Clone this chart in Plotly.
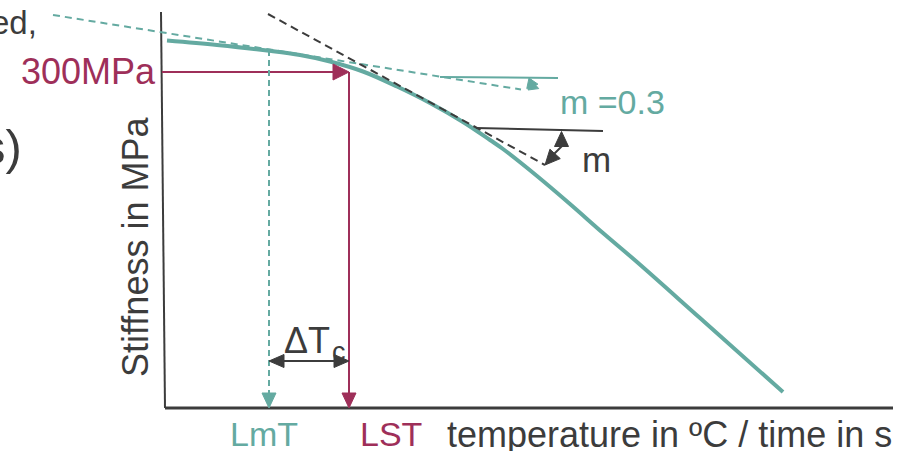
import plotly.graph_objects as go

# ---------------- data (schematic coordinates) ----------------
# stiffness master curve (temperature axis -> x, stiffness axis -> y, y grows downward)
curve_temp = [167, 217, 267, 300, 330, 363, 397, 430, 463, 490, 503, 537, 570, 603, 637, 700, 783]
curve_stiff = [40.5, 45, 50.5, 55, 61.5, 71.5, 86.5, 103, 122, 140, 149, 176, 204, 233, 262, 318, 392]

# axes of the schematic
yaxis_line_x = [161, 165]
yaxis_line_y = [12, 408]
xaxis_line_x = [165, 893]
xaxis_line_y = [408, 408]

# tangent at LmT (teal dashed) and its reference line
lmt_tangent_x = [53, 521]
lmt_tangent_y = [15, 89.5]
lmt_ref_x = [440, 558]
lmt_ref_y = [77, 78]

# tangent at LST (black dashed) and its reference line
lst_tangent_x = [268, 545]
lst_tangent_y = [14, 165]
lst_ref_x = [476, 603]
lst_ref_y = [128, 131]

# key values
stiff_300 = 72       # 300 MPa level
lst_temp = 349       # LST
lmt_temp = 269       # LmT
lmt_curve_y = 50
axis_base = 408
dtc_level = 361

TEAL = "#64AAA1"
CRIMSON = "#9E2F59"
DARK = "#3C3C3C"
FONT = "Arial, Liberation Sans, sans-serif"

fig = go.Figure()


def line(xs, ys, color, width, dash=None, shape="linear"):
    fig.add_trace(go.Scatter(x=xs, y=ys, mode="lines",
                             line=dict(color=color, width=width, dash=dash, shape=shape),
                             hoverinfo="skip", showlegend=False))


def head(tip_x, tip_y, from_x, from_y, length, half, color):
    dx, dy = tip_x - from_x, tip_y - from_y
    n = (dx * dx + dy * dy) ** 0.5
    ux, uy = dx / n, dy / n
    bx, by = tip_x - ux * length, tip_y - uy * length
    px, py = -uy * half, ux * half
    fig.add_trace(go.Scatter(x=[tip_x, bx + px, bx - px, tip_x],
                             y=[tip_y, by + py, by - py, tip_y],
                             mode="lines", fill="toself", fillcolor=color,
                             line=dict(color=color, width=1),
                             hoverinfo="skip", showlegend=False))


# axes
line(yaxis_line_x, yaxis_line_y, DARK, 2)
line(xaxis_line_x, xaxis_line_y, DARK, 3)

# master curve
line(curve_temp, curve_stiff, TEAL, 4, shape="spline")

# tangents
line(lmt_tangent_x, lmt_tangent_y, TEAL, 2, dash="7px,5px")
line(lmt_ref_x, lmt_ref_y, TEAL, 2)
line(lst_tangent_x, lst_tangent_y, DARK, 2, dash="8px,5px")
line(lst_ref_x, lst_ref_y, DARK, 2)

# small angle arrows
head(529, 78, 533, 88, 9, 6, TEAL)
head(528, 90, 536, 83, 9, 6, TEAL)
line([562, 557, 553], [146, 151, 155], DARK, 2)
head(561.5, 131.5, 561.5, 147, 15, 7, DARK)
head(545, 165, 555, 154, 15, 7, DARK)

# 300 MPa -> LST
line([162, lst_temp - 14], [stiff_300, stiff_300], CRIMSON, 2)
head(lst_temp, stiff_300, 162, stiff_300, 16, 8, CRIMSON)
line([lst_temp, lst_temp], [stiff_300, axis_base - 14], CRIMSON, 2)
head(lst_temp, axis_base, lst_temp, stiff_300, 15, 7, CRIMSON)

# LmT drop line
line([lmt_temp, lmt_temp], [lmt_curve_y, axis_base - 14], TEAL, 2, dash="6px,4px")
head(lmt_temp, axis_base, lmt_temp, lmt_curve_y, 15, 7, TEAL)

# delta Tc double arrow
line([lmt_temp + 13, lst_temp - 13], [dtc_level, dtc_level], DARK, 2)
head(lmt_temp, dtc_level, lst_temp, dtc_level, 15, 6.5, DARK)
head(lst_temp, dtc_level, lmt_temp, dtc_level, 15, 6.5, DARK)


def text(t, x, y, size, color, xanchor="center", yanchor="middle", angle=0):
    fig.add_annotation(x=x, y=y, text=t, showarrow=False, xanchor=xanchor, yanchor=yanchor,
                       textangle=angle, font=dict(family=FONT, size=size, color=color),
                       borderpad=0)


text("ed,", 38, 22.5, 33, DARK, xanchor="right")
text("s)", 23, 147, 49, DARK, xanchor="right")
text("300MPa", 157, 71.5, 36, CRIMSON, xanchor="right")
text("Stiffness in MPa", 135, 247, 36, DARK, angle=-90)
text("LmT", 263.5, 434, 34, TEAL)
text("LST", 390.5, 434, 34, CRIMSON)
text("temperature in ºC / time in s", 446, 434, 36, DARK, xanchor="left")
text("ΔT", 283, 340.5, 36, DARK, xanchor="left")
text("c", 339, 352, 27, DARK)
text("m =0.3", 559, 101.5, 34, TEAL, xanchor="left")
text("m", 581, 159.5, 35, DARK, xanchor="left")

fig.update_layout(
    width=909, height=451,
    margin=dict(l=0, r=0, t=0, b=0),
    paper_bgcolor="white", plot_bgcolor="white",
    xaxis=dict(range=[0, 909], visible=False, fixedrange=True),
    yaxis=dict(range=[451, 0], visible=False, fixedrange=True),
    showlegend=False,
)

fig.write_html(
    "out.html",
    config={"displayModeBar": False, "staticPlot": True},
    post_script="document.body.style.margin='0';document.body.style.overflow='hidden';",
)
